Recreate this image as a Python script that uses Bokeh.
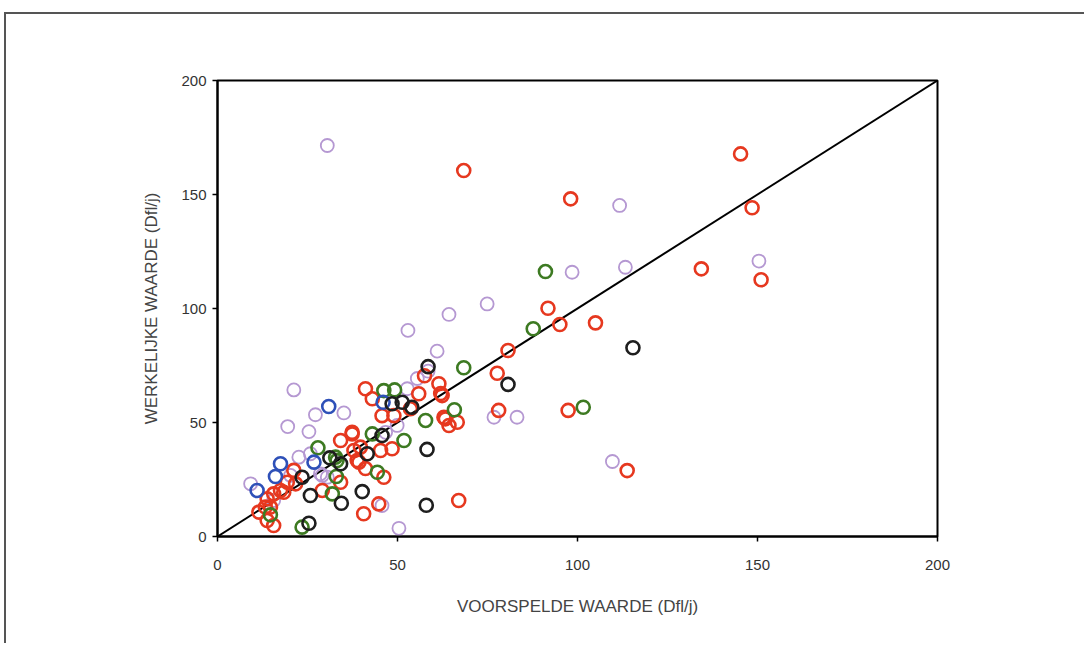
from bokeh.plotting import figure
from bokeh.models import FixedTicker, ColumnDataSource
from bokeh.embed import file_html
from bokeh.resources import INLINE

# ---- data ----
red_x = [68.4, 145.3, 98.1, 148.5, 134.4, 151.0, 91.8, 95.1, 105.0, 80.7, 77.7, 78.1, 97.4, 113.8, 67.0,
         41.1, 61.5, 62.0, 43.0, 53.6, 55.9, 62.9, 64.3, 66.6, 45.7, 49.0, 37.4, 34.2, 39.7, 38.8,
         45.3, 48.5, 46.2, 41.1, 40.6, 44.8, 11.5, 14.7, 13.8, 15.6, 15.6, 18.4, 19.4, 21.2, 34.2,
         62.4, 63.3, 39.3, 37.4, 37.9, 21.7, 13.8, 29.1, 13.3, 17.5, 57.5]
red_y = [160.5, 167.8, 148.1, 144.2, 117.4, 112.6, 100.1, 93.0, 93.7, 81.6, 71.6, 55.3, 55.3, 28.9, 15.8,
         64.8, 67.0, 62.7, 60.4, 56.0, 62.6, 52.3, 48.7, 50.1, 53.0, 53.0, 45.0, 42.1, 39.2, 33.3,
         37.7, 38.5, 26.0, 29.8, 10.0, 14.3, 10.7, 12.9, 7.0, 4.8, 18.7, 19.4, 23.8, 29.0, 23.8,
         61.8, 51.6, 32.6, 45.7, 37.7, 23.1, 16.5, 20.2, 12.9, 20.2, 70.5]

purple_x = [30.5, 111.7, 98.5, 113.3, 150.4, 74.9, 64.3, 52.9, 61.0, 55.5, 52.7, 76.8, 83.2, 109.7,
            50.4, 45.7, 49.9, 46.7, 21.2, 35.1, 27.2, 19.5, 25.4, 22.6, 25.8, 20.3, 29.1, 30.5,
            9.2, 15.6, 28.6, 58.5]
purple_y = [171.5, 145.2, 115.9, 118.1, 120.8, 102.0, 97.4, 90.4, 81.3, 69.3, 64.8, 52.3, 52.3, 32.9,
            3.6, 13.6, 48.7, 45.7, 64.3, 54.2, 53.4, 48.2, 46.0, 34.8, 36.3, 26.8, 26.8, 26.0,
            23.1, 15.8, 27.5, 72.5]

green_x = [91.1, 87.7, 68.4, 101.6, 65.8, 46.2, 49.2, 57.8, 43.0, 51.8, 44.4, 27.9, 33.2, 33.0,
           31.9, 23.5, 14.7, 32.8]
green_y = [116.2, 91.1, 74.0, 56.7, 55.6, 64.0, 64.3, 50.9, 45.0, 42.1, 28.2, 38.9, 33.3, 26.3,
           18.7, 4.1, 9.5, 34.8]

black_x = [115.4, 80.7, 58.5, 48.5, 51.3, 54.0, 58.2, 58.0, 45.7, 41.6, 31.2, 34.2, 23.5, 25.8,
           34.4, 40.2, 25.4]
black_y = [82.8, 66.7, 74.5, 58.2, 58.9, 56.7, 38.2, 13.7, 44.3, 36.3, 34.5, 31.9, 26.0, 18.0,
           14.6, 19.7, 5.8]

blue_x = [30.9, 17.5, 26.8, 16.1, 11.0, 46.0]
blue_y = [57.0, 31.9, 32.6, 26.3, 20.2, 58.9]

line_x = [0, 200]
line_y = [0, 200]
ticks = [0, 50, 100, 150, 200]

x_label = "VOORSPELDE WAARDE (Dfl/j)"
y_label = "WERKELIJKE WAARDE (Dfl/j)"

# ---- figure ----
p = figure(width=1080, height=631, x_range=(0, 200), y_range=(0, 200),
           output_backend="svg", toolbar_location=None,
           min_border_left=211, min_border_right=149,
           min_border_top=66, min_border_bottom=109)
p.styles = {"border-top": "2px solid #555555", "border-left": "2px solid #555555",
            "margin-left": "4px", "margin-top": "12px"}
p.background_fill_color = "white"
p.border_fill_color = "white"
p.outline_line_color = "black"
p.outline_line_width = 2
p.xgrid.visible = False
p.ygrid.visible = False

for ax in (p.xaxis, p.yaxis):
    ax.ticker = FixedTicker(ticks=ticks)
    ax.axis_line_color = "black"
    ax.axis_line_width = 2
    ax.major_tick_line_color = "black"
    ax.major_tick_line_width = 1.5
    ax.major_tick_in = 0
    ax.major_tick_out = 5
    ax.minor_tick_line_color = None
    ax.major_label_text_font = "Liberation Sans"
    ax.major_label_text_font_size = "15px"
    ax.major_label_text_color = "#333333"
    ax.axis_label_text_font = "Liberation Sans"
    ax.axis_label_text_font_size = "17px"
    ax.axis_label_text_font_style = "normal"
    ax.axis_label_text_color = "#444444"

p.xaxis.axis_label = x_label
p.yaxis.axis_label = y_label
p.xaxis.major_label_standoff = 18
p.yaxis.major_label_standoff = 6
p.xaxis.axis_label_standoff = 24
p.yaxis.axis_label_standoff = 17

p.line(line_x, line_y, line_color="black", line_width=2)

def pts(xs, ys, color, lw, size):
    src = ColumnDataSource(dict(x=xs, y=ys))
    p.scatter("x", "y", source=src, marker="circle", size=size,
              fill_color=None, line_color=color, line_width=lw)

pts(purple_x, purple_y, "#b598d2", 1.8, 13)
pts(red_x, red_y, "#e6381f", 2.6, 13)
pts(green_x, green_y, "#3d7a22", 2.6, 13)
pts(blue_x, blue_y, "#2e50b8", 2.6, 13)
pts(black_x, black_y, "#1e1e1e", 2.6, 13)

open("out.html", "w").write(file_html(p, INLINE))
